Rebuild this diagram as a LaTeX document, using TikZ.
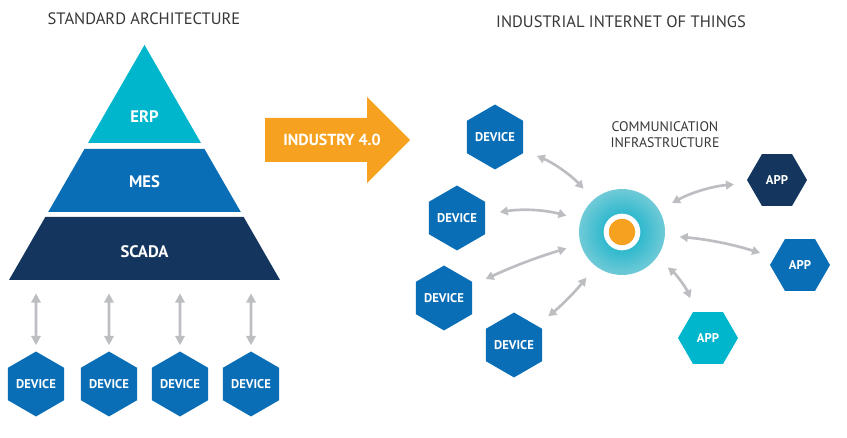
\documentclass[tikz,border=0pt]{standalone}
\usepackage{fontspec}
\setmainfont{PT Sans}
\usetikzlibrary{arrows.meta, positioning, shapes.geometric}
\definecolor{navy}{RGB}{20,54,94}
\definecolor{devblue}{RGB}{10,110,182}
\definecolor{cyanl}{RGB}{0,182,204}
\definecolor{orangel}{RGB}{246,161,31}
\definecolor{arrowgray}{RGB}{188,190,194}
\definecolor{darktext}{RGB}{55,55,55}
\definecolor{hubin}{RGB}{0,172,198}
\definecolor{hubout}{RGB}{112,202,215}

\begin{document}
\begin{tikzpicture}[
    x=0.75pt, y=-0.75pt,
    every node/.style={inner sep=0pt, text=white},
    title/.style={text=darktext, align=center, font=\fontsize{12.4}{15}\selectfont},
    layer/.style={font=\fontsize{12.5}{14}\selectfont\bfseries},
    device/.style={regular polygon, regular polygon sides=6, regular polygon rotate=30, minimum size=46.5pt, fill=devblue, font=\fontsize{9.5}{11}\selectfont\bfseries},
    app/.style={regular polygon, regular polygon sides=6, minimum size=45pt, font=\fontsize{9.5}{11}\selectfont\bfseries},
    link/.style={{Triangle[width=7pt,length=7pt]}-{Triangle[width=7pt,length=7pt]}, line width=2.2pt, arrowgray},
    hublink/.style={{Triangle[width=6.5pt,length=6pt]}-{Triangle[width=6.5pt,length=6pt]}, line width=2pt, arrowgray, shorten <=11pt, shorten >=11pt}]

\useasboundingbox (0,0) rectangle (847,438);

\node[title] (std) at (144,19) {STANDARD ARCHITECTURE};
\node[title] (iiot) at (621,22) {INDUSTRIAL INTERNET OF THINGS};
\node[title, font=\fontsize{10.4}{12}\selectfont] (comm) at (665,135) {COMMUNICATION\\INFRASTRUCTURE};

\fill[cyanl] (144.5,45) -- (201,143) -- (88,143) -- cycle;
\fill[devblue] (84.5,149) -- (204.5,149) -- (240.8,212) -- (48.2,212) -- cycle;
\fill[navy] (45.3,217) -- (243.7,217) -- (280,280) -- (9,280) -- cycle;
\node[layer] (erp) at (144.5,117) {ERP};
\node[layer] (mes) at (144.5,182) {MES};
\node[layer] (scada) at (144.5,252) {SCADA};
\coordinate (base) at (144.5,280);

\node[device] (dev1) at (36,384) {DEVICE};
\node[device] (dev2) at (109,384) {DEVICE};
\node[device] (dev3) at (180,384) {DEVICE};
\node[device] (dev4) at (251,384) {DEVICE};

\draw[link, shorten <=4.5pt, shorten >=10pt] (dev1) -- (dev1 |- base);
\draw[link, shorten <=4.5pt, shorten >=10pt] (dev2) -- (dev2 |- base);
\draw[link, shorten <=4.5pt, shorten >=10pt] (dev3) -- (dev3 |- base);
\draw[link, shorten <=4.5pt, shorten >=10pt] (dev4) -- (dev4 |- base);

\fill[orangel] (265,118) -- (367,118) -- (367,97) -- (410,140) -- (367,183) -- (367,162) -- (265,162) -- cycle;
\node[font=\fontsize{12}{14}\selectfont\bfseries] (industry) at (332,140) {INDUSTRY 4.0};

\node[circle, minimum size=64.5pt, inner color=hubin, outer color=hubout] (hub) at (622,232) {};
\node[circle, minimum size=23.75pt, fill=orangel, draw=white, line width=3.75pt] (core) at (hub) {};

\node[device] (dev5) at (495,137) {DEVICE};
\node[device] (dev6) at (457,218) {DEVICE};
\node[device] (dev7) at (444,298) {DEVICE};
\node[device] (dev8) at (514,345) {DEVICE};

\node[app, fill=navy] (app1) at (777,180) {APP};
\node[app, fill=devblue] (app2) at (800,265) {APP};
\node[app, fill=cyanl] (app3) at (708,338) {APP};

\draw[hublink] (dev5) to[bend left=12] (hub);
\draw[hublink] (dev6) to[bend left=12] (hub);
\draw[hublink] (dev7) to[bend left=4] (hub);
\draw[hublink] (dev8) to[bend right=6] (hub);
\draw[hublink] (hub) to[bend left=12] (app1);
\draw[hublink] (hub) to[bend left=6] (app2);
\draw[hublink] (hub) to[bend left=14] (app3);

\end{tikzpicture}
\end{document}
